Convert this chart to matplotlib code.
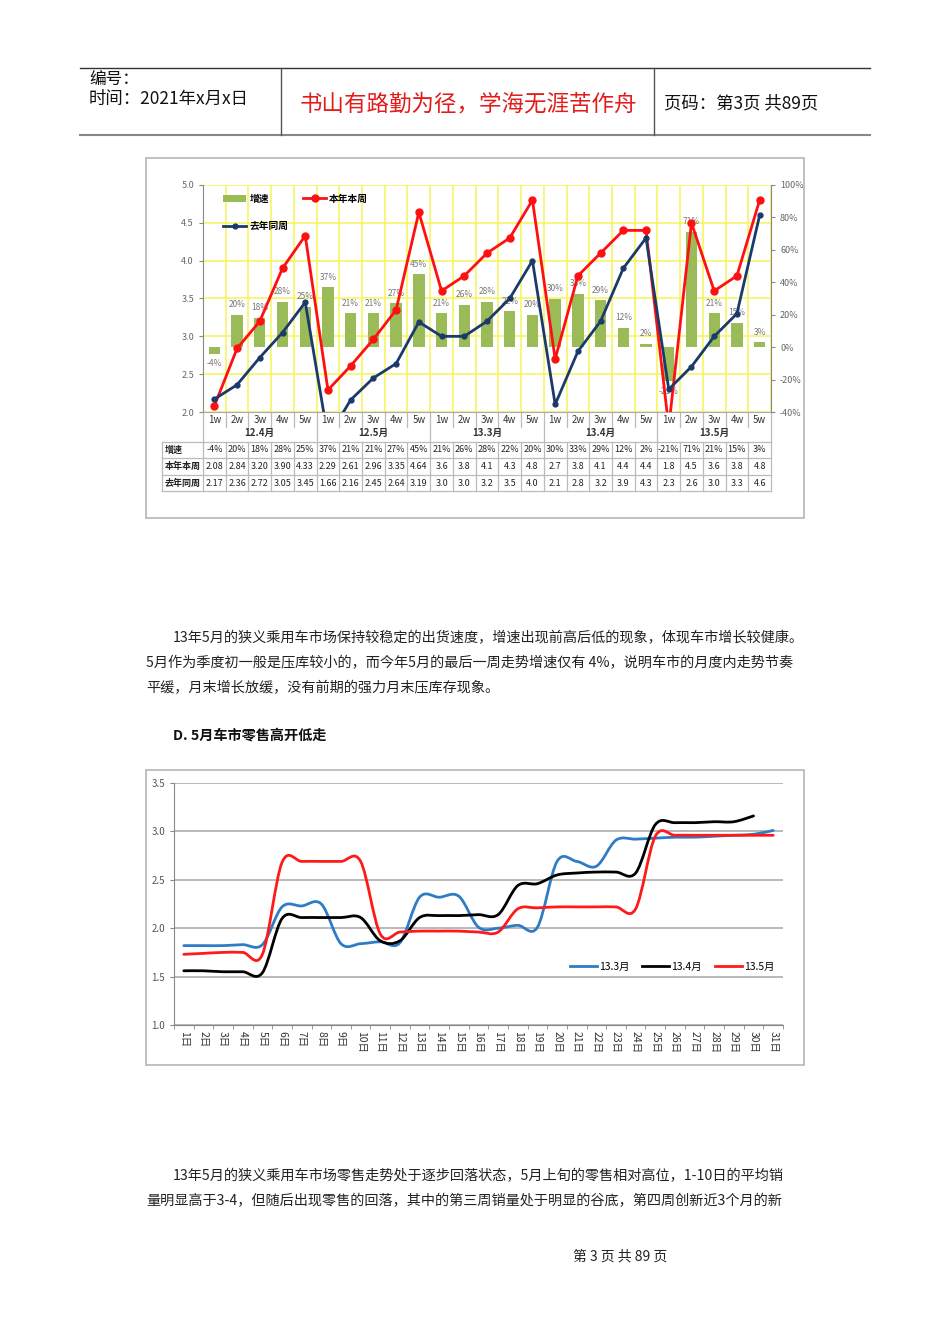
import numpy as np
import matplotlib
matplotlib.use('Agg')
import matplotlib.pyplot as plt
from matplotlib.path import Path
from matplotlib.patches import PathPatch, Rectangle
from matplotlib.lines import Line2D
from matplotlib.transforms import blended_transform_factory

plt.rcParams['font.family'] = ['Noto Sans CJK SC', 'DejaVu Sans']

# weekly chart data
weeks = ['1w', '2w', '3w', '4w', '5w'] * 5
months = ['12.4月', '12.5月', '13.3月', '13.4月', '13.5月']
growth = [-4, 20, 18, 28, 25, 37, 21, 21, 27, 45, 21, 26, 28, 22, 20,
          30, 33, 29, 12, 2, -21, 71, 21, 15, 3]
this_year = [2.08, 2.84, 3.20, 3.90, 4.33, 2.29, 2.61, 2.96, 3.35, 4.64,
             3.6, 3.8, 4.1, 4.3, 4.8, 2.7, 3.8, 4.1, 4.4, 4.4,
             1.8, 4.5, 3.6, 3.8, 4.8]
last_year = [2.17, 2.36, 2.72, 3.05, 3.45, 1.66, 2.16, 2.45, 2.64, 3.19,
             3.0, 3.0, 3.2, 3.5, 4.0, 2.1, 2.8, 3.2, 3.9, 4.3,
             2.3, 2.6, 3.0, 3.3, 4.6]
this_year_txt = ['2.08', '2.84', '3.20', '3.90', '4.33', '2.29', '2.61', '2.96', '3.35', '4.64',
                 '3.6', '3.8', '4.1', '4.3', '4.8', '2.7', '3.8', '4.1', '4.4', '4.4',
                 '1.8', '4.5', '3.6', '3.8', '4.8']
last_year_txt = ['2.17', '2.36', '2.72', '3.05', '3.45', '1.66', '2.16', '2.45', '2.64', '3.19',
                 '3.0', '3.0', '3.2', '3.5', '4.0', '2.1', '2.8', '3.2', '3.9', '4.3',
                 '2.3', '2.6', '3.0', '3.3', '4.6']

# daily retail data
days = ['%d日' % d for d in range(1, 32)]
retail_mar = [1.82, 1.82, 1.82, 1.83, 1.83, 2.22, 2.23, 2.25, 1.84, 1.84,
              1.86, 1.85, 2.32, 2.32, 2.33, 2.01, 2.00, 2.03, 2.01, 2.69,
              2.69, 2.64, 2.91, 2.92, 2.93, 2.94, 2.94, 2.95, 2.96, 2.97, 3.01]
retail_apr = [1.56, 1.56, 1.55, 1.55, 1.54, 2.10, 2.11, 2.11, 2.11, 2.11,
              1.87, 1.87, 2.11, 2.13, 2.13, 2.14, 2.14, 2.44, 2.46, 2.55,
              2.57, 2.58, 2.58, 2.57, 3.07, 3.09, 3.09, 3.10, 3.10, 3.16]
retail_may = [1.73, 1.74, 1.75, 1.75, 1.73, 2.68, 2.69, 2.69, 2.69, 2.69,
              1.94, 1.96, 1.97, 1.97, 1.97, 1.96, 1.96, 2.20, 2.21, 2.22,
              2.22, 2.22, 2.22, 2.20, 2.95, 2.96, 2.96, 2.96, 2.96, 2.96, 2.96]

para1 = ['13年5月的狭义乘用车市场保持较稳定的出货速度，增速出现前高后低的现象，体现车市增长较健康。',
         '5月作为季度初一般是压库较小的，而今年5月的最后一周走势增速仅有 4%，说明车市的月度内走势节奏',
         '平缓，月末增长放缓，没有前期的强力月末压库存现象。']
heading = 'D. 5月车市零售高开低走'
para2 = ['13年5月的狭义乘用车市场零售走势处于逐步回落状态，5月上旬的零售相对高位，1-10日的平均销',
         '量明显高于3-4，但随后出现零售的回落，其中的第三周销量处于明显的谷底，第四周创新近3个月的新']

W, H = 950, 1344


def fx(px):
    return px / W


def fy(py):
    return 1 - py / H


def smooth_path(xs, ys):
    # Excel-style smoothed line drawn as cubic Bezier segments through the points
    pts = np.column_stack([xs, ys])
    n = len(pts)
    verts = [pts[0]]
    codes = [Path.MOVETO]
    for i in range(n - 1):
        p0 = pts[max(i - 1, 0)]
        p1 = pts[i]
        p2 = pts[i + 1]
        p3 = pts[min(i + 2, n - 1)]
        verts += [p1 + (p2 - p0) / 6, p2 - (p3 - p1) / 6, p2]
        codes += [Path.CURVE4] * 3
    return Path(verts, codes)


fig = plt.figure(figsize=(9.5, 13.44), dpi=100)
fig.patch.set_facecolor('white')

# ---- page header ----
fig.add_artist(Line2D([fx(80), fx(870)], [fy(68), fy(68)], color='#333333', lw=1))
fig.add_artist(Line2D([fx(80), fx(870)], [fy(135), fy(135)], color='#888888', lw=1.5))
for xv in (281, 654):
    fig.add_artist(Line2D([fx(xv), fx(xv)], [fy(68), fy(135)], color='#555555', lw=1))
fig.text(fx(89), fy(80), '编号：', fontsize=12, va='center', color='#111111')
fig.text(fx(89), fy(99), '时间：2021年x月x日', fontsize=12.5, va='center', color='#111111')
fig.text(fx(468), fy(104), '书山有路勤为径，学海无涯苦作舟', fontsize=16.2, va='center',
         ha='center', color='#E31B1B')
fig.text(fx(664), fy(103), '页码：第3页 共89页', fontsize=12.5, va='center', color='#111111')

# ---- top chart ----
fig.add_artist(Rectangle((fx(146), fy(518)), fx(804) - fx(146), fy(158) - fy(518),
                         transform=fig.transFigure, fill=False, ec='#BBBBBB', lw=1.3))

ax = fig.add_axes([fx(203), fy(412), fx(771) - fx(203), fy(185) - fy(412)])
n = len(weeks)
x = np.arange(n)
ax.set_xlim(-0.5, n - 0.5)
ax.set_ylim(2.0, 5.0)
ax.set_yticks(np.arange(2.0, 5.01, 0.5))
ax.set_yticklabels(['%.1f' % v for v in np.arange(2.0, 5.01, 0.5)])
ax.set_xticks(np.arange(-0.5, n, 1))
ax.set_xticklabels([])
ax.tick_params(axis='x', length=0)
ax.tick_params(axis='y', labelsize=6.5, labelcolor='#666666', color='#888888', length=3)
ax.grid(True, color='#F5F55A', lw=1.1)
ax.set_axisbelow(True)
for s in ('top', 'right'):
    ax.spines[s].set_visible(False)
ax.spines['left'].set_color('#888888')
ax.spines['bottom'].set_color('#AAAAAA')

axb = ax.twinx()
axb.set_ylim(-0.4, 1.0)
axb.set_yticks(np.arange(-0.4, 1.01, 0.2))
axb.set_yticklabels(['%d%%' % round(v * 100) for v in np.arange(-0.4, 1.01, 0.2)])
axb.tick_params(axis='y', labelsize=6.5, labelcolor='#666666', color='#888888', length=3)
for s in ('top', 'left', 'bottom'):
    axb.spines[s].set_visible(False)
axb.spines['right'].set_color('#888888')
gvals = np.array(growth) / 100
bars = axb.bar(x, gvals, width=0.5, color='#9BBB59', label='增速')
for xi, g in zip(x, gvals):
    if g >= 0:
        axb.annotate('%d%%' % round(g * 100), (xi, g), xytext=(0, 4), textcoords='offset points',
                     ha='center', va='bottom', fontsize=6, color='#777777')
    else:
        axb.annotate('%d%%' % round(g * 100), (xi, g), xytext=(0, -4), textcoords='offset points',
                     ha='center', va='top', fontsize=6, color='#777777')

axl = ax.twinx()
axl.set_ylim(2.0, 5.0)
axl.axis('off')
l1, = axl.plot(x, this_year, color='#FF1010', lw=2, marker='o', ms=5, label='本年本周')
l2, = axl.plot(x, last_year, color='#1B3A6B', lw=2, marker='o', ms=3.5, label='去年同周')
axl.legend(handles=[bars, l2, l1], labels=['增速', '去年同周', '本年本周'], ncol=2,
           loc='upper left', bbox_to_anchor=(0.02, 1.0), frameon=False,
           prop={'size': 7, 'weight': 'bold'}, labelspacing=1.8, columnspacing=1.5,
           handlelength=2.4, handletextpad=0.3)

# week / month rows and table below the plot
tr = blended_transform_factory(ax.transData, fig.transFigure)
grey = '#BBBBBB'
for i, w in enumerate(weeks):
    ax.text(i, fy(420), w, transform=tr, ha='center', va='center', fontsize=7, color='#333333')
for i in range(n + 1):
    bot_y = 442 if i % 5 == 0 else 427
    ax.plot([i - 0.5, i - 0.5], [fy(412), fy(bot_y)], transform=tr, color=grey, lw=0.9,
            clip_on=False)
    ax.plot([i - 0.5, i - 0.5], [fy(442), fy(491)], transform=tr, color=grey, lw=0.9,
            clip_on=False)
for m, name in enumerate(months):
    ax.text(m * 5 + 2, fy(433), name, transform=tr, ha='center', va='center', fontsize=7,
            weight='bold', color='#333333')

row_tops = [442, 458, 475, 491]
for yv in row_tops:
    fig.add_artist(Line2D([fx(162), fx(771)], [fy(yv), fy(yv)], color=grey, lw=0.9))
fig.add_artist(Line2D([fx(162), fx(162)], [fy(442), fy(491)], color=grey, lw=0.9))
row_names = ['增速', '本年本周', '去年同周']
row_vals = [['%d%%' % g for g in growth], this_year_txt, last_year_txt]
for r in range(3):
    yc = (row_tops[r] + row_tops[r + 1]) / 2
    fig.text(fx(165), fy(yc), row_names[r], fontsize=6.5, weight='bold', va='center',
             color='#222222')
    for i in range(n):
        ax.text(i, fy(yc), row_vals[r][i], transform=tr, ha='center', va='center',
                fontsize=6.5, color='#222222')

# ---- paragraph text ----
fig.text(fx(173), fy(638), para1[0], fontsize=10.2, va='center', color='#222222')
fig.text(fx(146), fy(663), para1[1], fontsize=10.2, va='center', color='#222222')
fig.text(fx(146), fy(688), para1[2], fontsize=10.2, va='center', color='#222222')
fig.text(fx(173), fy(736), heading, fontsize=10.2, weight='bold', va='center', color='#111111')

# ---- bottom chart ----
fig.add_artist(Rectangle((fx(146), fy(1065)), fx(804) - fx(146), fy(770) - fy(1065),
                         transform=fig.transFigure, fill=False, ec='#BBBBBB', lw=1.3))
bx = fig.add_axes([fx(174), fy(1025), fx(783) - fx(174), fy(783) - fy(1025)])
bx.set_xlim(-0.5, 30.5)
bx.set_ylim(1.0, 3.5)
bx.set_yticks(np.arange(1.0, 3.51, 0.5))
bx.set_yticklabels(['%.1f' % v for v in np.arange(1.0, 3.51, 0.5)])
bx.tick_params(axis='y', labelsize=7, labelcolor='#555555', color='#888888', length=3)
bx.set_xticks(np.arange(31))
bx.set_xticklabels(days, rotation=270, fontsize=7.5, color='#333333')
bx.tick_params(axis='x', length=0, pad=4)
bx.set_xticks(np.arange(-0.5, 31, 1), minor=True)
bx.tick_params(axis='x', which='minor', length=3, color='#888888')
bx.grid(True, axis='y', color='#A6A6A6', lw=1.1)
bx.set_axisbelow(True)
for s in ('top', 'right'):
    bx.spines[s].set_visible(False)
bx.spines['left'].set_color('#888888')
bx.spines['bottom'].set_color('#888888')

series = [(retail_mar, '#2E7CC4', '13.3月'), (retail_apr, '#000000', '13.4月'),
          (retail_may, '#FF1A1A', '13.5月')]
handles = []
for vals, col, name in series:
    xs = np.arange(len(vals))
    bx.add_patch(PathPatch(smooth_path(xs, vals), fill=False, ec=col, lw=2, capstyle='round',
                           joinstyle='round'))
    handles.append(Line2D([], [], color=col, lw=2, label=name))
bx.legend(handles=handles, loc='center', bbox_to_anchor=(0.818, 0.24), ncol=3, frameon=False,
          fontsize=7.5, handlelength=2.6, handletextpad=0.2, columnspacing=1.2)

fig.text(fx(173), fy(1176), para2[0], fontsize=10.2, va='center', color='#222222')
fig.text(fx(146), fy(1201), para2[1], fontsize=10.2, va='center', color='#222222')
fig.text(fx(620), fy(1256), '第 3 页 共 89 页', fontsize=10, va='center', ha='center',
         color='#222222')

fig.savefig('out.png', dpi=100, facecolor='white')
